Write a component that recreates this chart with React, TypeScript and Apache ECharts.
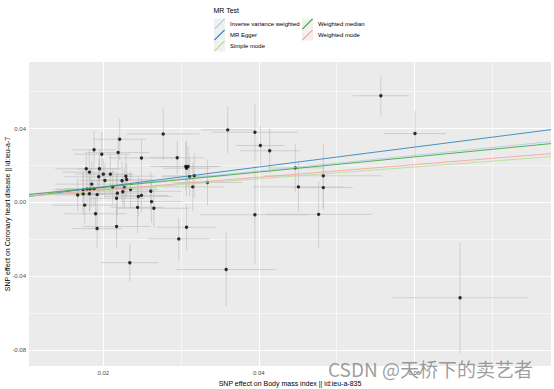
import React, { useEffect, useRef } from "react";
import * as echarts from "echarts";

// SNP effects (exposure: BMI, outcome: CHD)
const betaExposure = [
  0.0277, 0.0221, 0.0188, 0.0198, 0.0219, 0.0249, 0.0295, 0.0306, 0.0309, 0.0307,
  0.0178, 0.0182, 0.0195, 0.0200, 0.0209, 0.0194, 0.0229, 0.0202, 0.0224, 0.0230,
  0.0317, 0.0311, 0.0185, 0.0212, 0.0227, 0.0235, 0.0315, 0.0334, 0.0174, 0.0179,
  0.0183, 0.0188, 0.0225, 0.0261, 0.0167, 0.0174, 0.0182, 0.0192, 0.0218, 0.0249,
  0.0245, 0.0217, 0.0262, 0.0176, 0.0244, 0.0265, 0.0190, 0.0192, 0.0217, 0.0307,
  0.0297, 0.0234, 0.0557, 0.0360, 0.0395, 0.0402, 0.0414, 0.0447, 0.0483, 0.0451,
  0.0483, 0.0395, 0.0477, 0.0358, 0.0601, 0.0659,
];
const betaOutcome = [
  0.0371, 0.0342, 0.0285, 0.0261, 0.0270, 0.0241, 0.0242, 0.0195, 0.0194, 0.0185,
  0.0182, 0.0164, 0.0182, 0.0153, 0.0153, 0.0139, 0.0142, 0.0119, 0.0117, 0.0124,
  0.0144, 0.0139, 0.0099, 0.0083, 0.0080, 0.0070, 0.0084, 0.0108, 0.0069, 0.0072,
  0.0072, 0.0074, 0.0058, 0.0060, 0.0040, 0.0047, 0.0047, 0.0042, 0.0050, 0.0038,
  0.0032, 0.0022, 0.0004, -0.0015, -0.0027, -0.0032, -0.0062, -0.0142, -0.0131, -0.0135,
  -0.0198, -0.0327, 0.0578, 0.0393, 0.0380, 0.0308, 0.0280, 0.0187, 0.0144, 0.0084,
  0.0080, -0.0067, -0.0065, -0.0364, 0.0373, -0.0517,
];
const seExposure = [
  0.0047, 0.0034, 0.0028, 0.0036, 0.0040, 0.0042, 0.0035, 0.0046, 0.0038, 0.0030,
  0.0040, 0.0034, 0.0028, 0.0036, 0.0030, 0.0044, 0.0038, 0.0032, 0.0040, 0.0034,
  0.0042, 0.0036, 0.0046, 0.0030, 0.0042, 0.0036, 0.0040, 0.0045, 0.0038, 0.0030,
  0.0044, 0.0036, 0.0032, 0.0040, 0.0030, 0.0036, 0.0042, 0.0028, 0.0038, 0.0034,
  0.0044, 0.0036, 0.0040, 0.0042, 0.0034, 0.0046, 0.0040, 0.0032, 0.0044, 0.0038,
  0.0040, 0.0037, 0.0036, 0.0034, 0.0055, 0.0031, 0.0038, 0.0035, 0.0076, 0.0058,
  0.0038, 0.0070, 0.0068, 0.0064, 0.0040, 0.0088,
];
const seOutcome = [
  0.0144, 0.0113, 0.0104, 0.0120, 0.0095, 0.0100, 0.0090, 0.0130, 0.0110, 0.0150,
  0.0090, 0.0120, 0.0100, 0.0085, 0.0110, 0.0095, 0.0120, 0.0090, 0.0105, 0.0085,
  0.0120, 0.0110, 0.0125, 0.0095, 0.0110, 0.0100, 0.0130, 0.0125, 0.0105, 0.0085,
  0.0115, 0.0095, 0.0080, 0.0105, 0.0090, 0.0115, 0.0100, 0.0085, 0.0120, 0.0095,
  0.0110, 0.0130, 0.0115, 0.0100, 0.0140, 0.0105, 0.0090, 0.0105, 0.0120, 0.0125,
  0.0115, 0.0103, 0.0106, 0.0126, 0.0156, 0.0110, 0.0122, 0.0130, 0.0175, 0.0135,
  0.0120, 0.0266, 0.0180, 0.0200, 0.0124, 0.0300,
];

// MR methods
const methods = [
  "Inverse variance weighted",
  "MR Egger",
  "Simple mode",
  "Weighted median",
  "Weighted mode",
];
const methodColors = ["#A6CEE3", "#1F78B4", "#B2DF8A", "#33A02C", "#FB9A99"];
const methodIntercepts = [0, -0.0024, 0, 0, 0];
const methodSlopes = [0.4246, 0.539, 0.3197, 0.4107, 0.3407];

// axes
const xRange = [0.01043, 0.0776];
const yRange = [-0.0887, 0.0761];
const xMajor = [0.02, 0.04, 0.06];
const xMinor = [0.03, 0.05, 0.07];
const yMajor = [-0.08, -0.04, 0.0, 0.04];
const yMinor = [-0.06, -0.02, 0.02, 0.06];

const xTitle = "SNP effect on Body mass index || id:ieu-a-835";
const yTitle = "SNP effect on Coronary heart disease || id:ieu-a-7";
const legendTitle = "MR Test";
const watermark = "CSDN @天桥下的卖艺者";

const FONT = "'Liberation Sans', Arial, sans-serif";
const DIAG = "path://M0,9.3 L9.3,0 L10,0.7 L0.7,10 Z";

export default function App() {
  const ref = useRef<HTMLDivElement>(null);

  useEffect(() => {
    if (!ref.current) return;
    const chart = echarts.init(ref.current, undefined, { renderer: "svg" });

    const pts = betaExposure.map((bx, i) => [bx, betaOutcome[i], seExposure[i], seOutcome[i]]);

    const gridLines: any[] = [];
    xMajor.forEach((v) =>
      gridLines.push({
        xAxis: v,
        lineStyle: { color: "#FFFFFF", width: 1.1, type: "solid" },
        label: {
          show: true,
          position: "start",
          formatter: v.toFixed(2),
          fontSize: 6,
          color: "#4D4D4D",
          fontFamily: FONT,
          distance: 4,
        },
      })
    );
    xMinor.forEach((v) =>
      gridLines.push({
        xAxis: v,
        lineStyle: { color: "#FFFFFF", width: 0.55, type: "solid" },
        label: { show: false },
      })
    );
    yMajor.forEach((v) =>
      gridLines.push({
        yAxis: v,
        lineStyle: { color: "#FFFFFF", width: 1.1, type: "solid" },
        label: {
          show: true,
          position: "start",
          formatter: v.toFixed(2),
          fontSize: 6,
          color: "#4D4D4D",
          fontFamily: FONT,
          distance: 3,
        },
      })
    );
    yMinor.forEach((v) =>
      gridLines.push({
        yAxis: v,
        lineStyle: { color: "#FFFFFF", width: 0.55, type: "solid" },
        label: { show: false },
      })
    );

    const lineSeries = methods.map((name, i) => ({
      name,
      type: "line",
      z: 5,
      showSymbol: false,
      symbol: "none",
      silent: true,
      color: methodColors[i],
      itemStyle: { color: methodColors[i] },
      lineStyle: { color: methodColors[i], width: 0.8 },
      data: xRange.map((x) => [x, methodIntercepts[i] + methodSlopes[i] * x]),
    }));

    const legendBase = {
      orient: "vertical",
      top: 18.5,
      itemWidth: 11,
      itemHeight: 11,
      itemGap: 0,
      padding: 0,
      selectedMode: false,
      textStyle: { fontSize: 6, color: "#000", fontFamily: FONT },
    };

    const keyRects: any[] = [];
    [
      [214, 18.5],
      [214, 29.5],
      [214, 40.5],
      [302, 18.5],
      [302, 29.5],
    ].forEach(([x, y]) =>
      keyRects.push({
        type: "rect",
        left: x,
        top: y,
        shape: { width: 11, height: 11 },
        style: { fill: "#F0F0F0" },
        z: 0,
      })
    );

    chart.setOption({
      animation: false,
      backgroundColor: "#FFFFFF",
      textStyle: { fontFamily: FONT },
      title: {
        text: legendTitle,
        left: 213.5,
        top: 7,
        padding: 0,
        textStyle: { fontSize: 7, fontWeight: "normal", color: "#000", fontFamily: FONT },
      },
      legend: [
        {
          ...legendBase,
          left: 214,
          data: methods.slice(0, 3).map((name) => ({ name, icon: DIAG })),
        },
        {
          ...legendBase,
          left: 302,
          data: methods.slice(3).map((name) => ({ name, icon: DIAG })),
        },
      ],
      grid: {
        left: 29,
        right: 3,
        top: 62,
        bottom: 23,
        show: true,
        backgroundColor: "#EBEBEB",
        borderWidth: 0,
        containLabel: false,
        outerBoundsMode: "none",
      },
      xAxis: {
        type: "value",
        min: xRange[0],
        max: xRange[1],
        axisLine: { show: false },
        axisTick: { show: false },
        axisLabel: { show: false },
        splitLine: { show: false },
        name: xTitle,
        nameLocation: "middle",
        nameGap: 14,
        nameTextStyle: { fontSize: 7, color: "#000", fontFamily: FONT },
      },
      yAxis: {
        type: "value",
        min: yRange[0],
        max: yRange[1],
        axisLine: { show: false },
        axisTick: { show: false },
        axisLabel: { show: false },
        splitLine: { show: false },
        name: yTitle,
        nameLocation: "middle",
        nameGap: 18,
        nameTextStyle: { fontSize: 7, color: "#000", fontFamily: FONT },
      },
      graphic: [
        ...keyRects,
        {
          type: "text",
          left: 328,
          top: 359,
          z: 100,
          style: {
            text: watermark,
            fontSize: 19,
            fill: "rgba(120,120,120,0.72)",
            fontFamily: "'Noto Sans CJK SC', 'Liberation Sans', sans-serif",
          },
        },
      ],
      series: [
        {
          type: "line",
          z: 1,
          data: [],
          silent: true,
          markLine: {
            silent: true,
            z: 1,
            animation: false,
            symbol: ["none", "none"],
            data: gridLines,
          },
        },
        {
          type: "custom",
          z: 2,
          silent: true,
          clip: true,
          data: pts,
          encode: { x: 0, y: 1 },
          renderItem: (params: any, api: any) => {
            const x = api.value(0);
            const y = api.value(1);
            const sx = api.value(2);
            const sy = api.value(3);
            const a = api.coord([x - sx, y]);
            const b = api.coord([x + sx, y]);
            const c = api.coord([x, y - sy]);
            const d = api.coord([x, y + sy]);
            const style = { stroke: "#BEBEBE", lineWidth: 0.9, opacity: 0.7 };
            return {
              type: "group",
              children: [
                { type: "line", shape: { x1: c[0], y1: c[1], x2: d[0], y2: d[1] }, style },
                { type: "line", shape: { x1: a[0], y1: a[1], x2: b[0], y2: b[1] }, style },
              ],
            };
          },
        },
        {
          type: "scatter",
          z: 3,
          silent: true,
          symbolSize: 3.4,
          itemStyle: { color: "#000000" },
          data: pts.map((p) => [p[0], p[1]]),
        },
        ...lineSeries,
      ],
    });

    return () => chart.dispose();
  }, []);

  return (
    <div
      ref={ref}
      style={{ position: "absolute", left: 0, top: 0, width: 554, height: 389 }}
    />
  );
}
